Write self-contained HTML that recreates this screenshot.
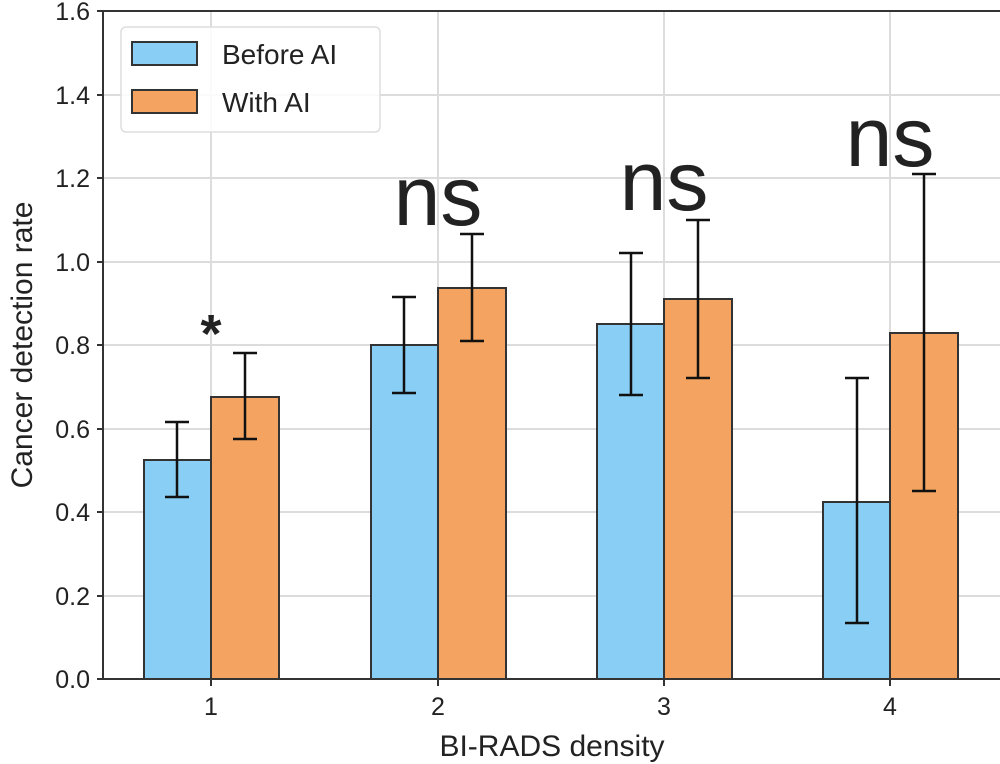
<!DOCTYPE html><html><head><style>body{margin:0;background:#fff}svg{display:block}text{font-family:"Liberation Sans","DejaVu Sans",sans-serif;fill:#222}</style></head><body>
<svg width="1000" height="764" viewBox="0 0 1000 764">
<g stroke="#dcdcdc" stroke-width="2">
<line x1="211" y1="11" x2="211" y2="679"/><line x1="438" y1="11" x2="438" y2="679"/><line x1="664" y1="11" x2="664" y2="679"/><line x1="890" y1="11" x2="890" y2="679"/>
<line x1="103" y1="596" x2="1000" y2="596"/><line x1="103" y1="512" x2="1000" y2="512"/><line x1="103" y1="429" x2="1000" y2="429"/><line x1="103" y1="345" x2="1000" y2="345"/><line x1="103" y1="262" x2="1000" y2="262"/><line x1="103" y1="178" x2="1000" y2="178"/><line x1="103" y1="95" x2="1000" y2="95"/>
</g>
<g stroke="#333" stroke-width="2">
<rect x="144" y="460" width="67" height="219" fill="#89cff5"/>
<rect x="211" y="397" width="68" height="282" fill="#f4a460"/>
<rect x="371" y="345" width="67" height="334" fill="#89cff5"/>
<rect x="438" y="288" width="68" height="391" fill="#f4a460"/>
<rect x="597" y="324" width="67" height="355" fill="#89cff5"/>
<rect x="664" y="299" width="68" height="380" fill="#f4a460"/>
<rect x="823" y="502" width="67" height="177" fill="#89cff5"/>
<rect x="890" y="333" width="68" height="346" fill="#f4a460"/>
</g>
<g stroke="#111" stroke-width="2.5" fill="none">
<path d="M177 497V422M165 497h24M165 422h24"/>
<path d="M245 439V353M233 439h24M233 353h24"/>
<path d="M404 393V297M392 393h24M392 297h24"/>
<path d="M472 341V234M460 341h24M460 234h24"/>
<path d="M631 395V253M619 395h24M619 253h24"/>
<path d="M698 378V220M686 378h24M686 220h24"/>
<path d="M857 623V378M845 623h24M845 378h24"/>
<path d="M924 491V174M912 491h24M912 174h24"/>
</g>
<g stroke="#333" stroke-width="2"><line x1="103" y1="11" x2="103" y2="680"/><line x1="102" y1="679" x2="1000" y2="679"/><line x1="103" y1="11" x2="1000" y2="11"/>
<line x1="97" y1="679" x2="103" y2="679"/><line x1="97" y1="596" x2="103" y2="596"/><line x1="97" y1="512" x2="103" y2="512"/><line x1="97" y1="429" x2="103" y2="429"/><line x1="97" y1="345" x2="103" y2="345"/><line x1="97" y1="262" x2="103" y2="262"/><line x1="97" y1="178" x2="103" y2="178"/><line x1="97" y1="95" x2="103" y2="95"/><line x1="97" y1="11" x2="103" y2="11"/>
<line x1="211" y1="679" x2="211" y2="686"/><line x1="438" y1="679" x2="438" y2="686"/><line x1="664" y1="679" x2="664" y2="686"/><line x1="890" y1="679" x2="890" y2="686"/></g>
<g font-size="25" text-anchor="end"><text x="90" y="688">0.0</text><text x="90" y="605">0.2</text><text x="90" y="521">0.4</text><text x="90" y="438">0.6</text><text x="90" y="354">0.8</text><text x="90" y="271">1.0</text><text x="90" y="187">1.2</text><text x="90" y="104">1.4</text><text x="90" y="20">1.6</text></g>
<g font-size="25" text-anchor="middle"><text x="211" y="715">1</text><text x="438" y="715">2</text><text x="664" y="715">3</text><text x="890" y="715">4</text></g>
<text x="552" y="756" font-size="30" text-anchor="middle">BI-RADS density</text>
<text transform="translate(32,345) rotate(-90)" font-size="30" text-anchor="middle">Cancer detection rate</text>
<text x="211" y="352" font-size="54" font-weight="bold" text-anchor="middle">*</text>
<g font-size="84" text-anchor="middle"><text x="438" y="225">ns</text><text x="664" y="210">ns</text><text x="890" y="166">ns</text></g>
<rect x="121" y="27" width="259" height="105" rx="5" fill="#fff" fill-opacity="0.85" stroke="#ddd" stroke-width="1.5"/>
<rect x="132" y="42" width="65" height="23" fill="#89cff5" stroke="#333" stroke-width="2"/>
<rect x="132" y="90" width="65" height="23" fill="#f4a460" stroke="#333" stroke-width="2"/>
<text x="222" y="64" font-size="28">Before AI</text><text x="222" y="112" font-size="28">With AI</text>
</svg></body></html>
